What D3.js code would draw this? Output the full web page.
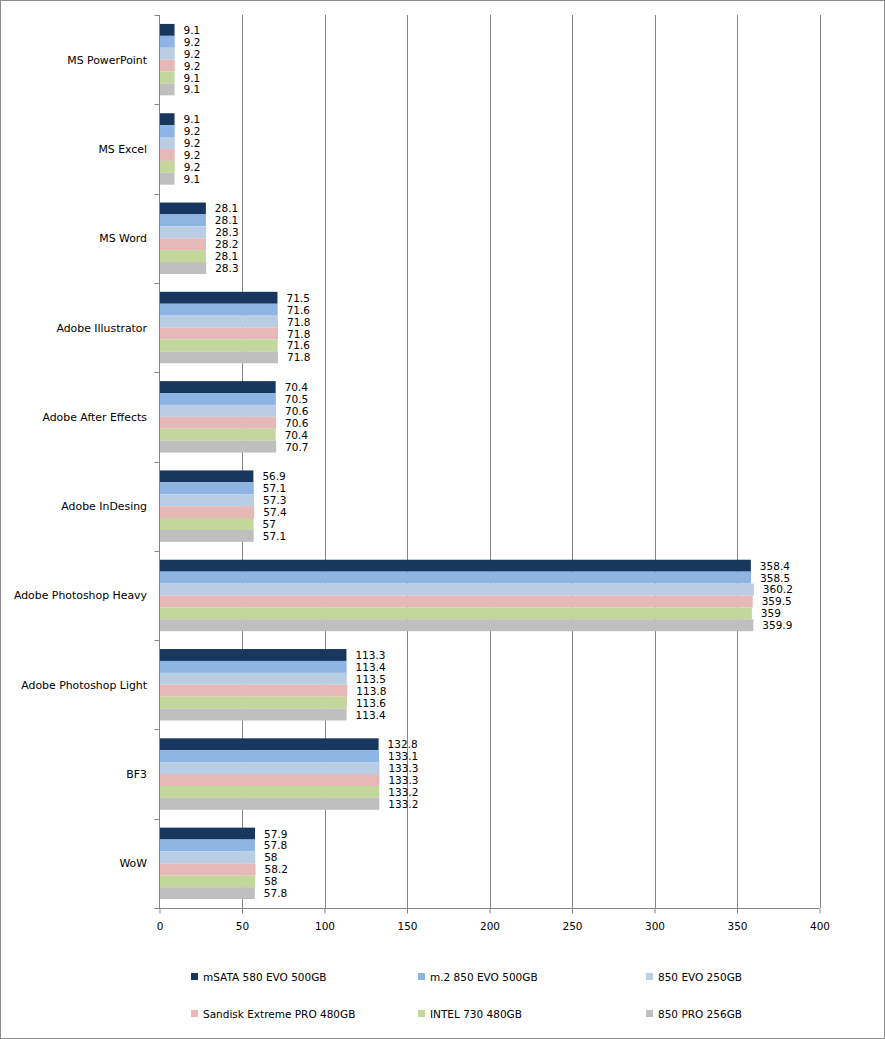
<!DOCTYPE html>
<html>
<head>
<meta charset="utf-8">
<script src="https://cdn.jsdelivr.net/npm/d3@7"></script>
<style>
  body { margin: 0; background: #fff; }
  svg text { font-family: "DejaVu Sans", Verdana, sans-serif; fill: #000; }
</style>
</head>
<body>
<div class="chart"></div>
<script>
const width = 885;
const height = 1039;

const categories = ['MS PowerPoint', 'MS Excel', 'MS Word', 'Adobe Illustrator', 'Adobe After Effects',
    'Adobe InDesing', 'Adobe Photoshop Heavy', 'Adobe Photoshop Light', 'BF3', 'WoW'];

const seriesNames = ['mSATA 580 EVO 500GB', 'm.2 850 EVO 500GB', '850 EVO 250GB',
    'Sandisk Extreme PRO 480GB', 'INTEL 730 480GB', '850 PRO 256GB'];

const seriesColors = ['#17375e', '#8db4e2', '#b9cde5', '#e6b9b8', '#c3d69b', '#bfbfbf'];

// one array per series, same order as categories
const msata580 = [9.1, 9.1, 28.1, 71.5, 70.4, 56.9, 358.4, 113.3, 132.8, 57.9];
const m2evo500 = [9.2, 9.2, 28.1, 71.6, 70.5, 57.1, 358.5, 113.4, 133.1, 57.8];
const evo250 = [9.2, 9.2, 28.3, 71.8, 70.6, 57.3, 360.2, 113.5, 133.3, 58];
const sandisk480 = [9.2, 9.2, 28.2, 71.8, 70.6, 57.4, 359.5, 113.8, 133.3, 58.2];
const intel730 = [9.1, 9.2, 28.1, 71.6, 70.4, 57, 359, 113.6, 133.2, 58];
const pro256 = [9.1, 9.1, 28.3, 71.8, 70.7, 57.1, 359.9, 113.4, 133.2, 57.8];

const seriesValues = [msata580, m2evo500, evo250, sandisk480, intel730, pro256];

const xTicks = [0, 50, 100, 150, 200, 250, 300, 350, 400];

const plot = { left: 159.5, right: 819.5, top: 15, bottom: 908 };

const svg = d3.select('.chart')
    .append('svg')
    .attr('width', width)
    .attr('height', height)

svg.append('rect')
    .attr('x', 0.5).attr('y', 0.5)
    .attr('width', width - 1).attr('height', height - 1)
    .attr('fill', '#fff')
    .attr('stroke', '#8c8c8c')

const x = d3.scaleLinear().domain([0, 400]).range([plot.left, plot.right]);

const y = d3.scaleBand()
    .domain(categories)
    .range([plot.top, plot.bottom])
    .paddingInner(0.2)
    .paddingOuter(0.1)

const yInner = d3.scaleBand()
    .domain(d3.range(seriesNames.length))
    .range([0, y.bandwidth()])

// vertical gridlines
svg.append('g')
    .selectAll('line')
    .data(xTicks.filter(t => t > 0))
    .enter()
    .append('line')
    .attr('x1', d => Math.round(x(d)) + 0.5)
    .attr('x2', d => Math.round(x(d)) + 0.5)
    .attr('y1', plot.top)
    .attr('y2', plot.bottom)
    .attr('stroke', '#868686')

// bars
const rows = svg.append('g')
    .selectAll('g')
    .data(categories)
    .enter()
    .append('g')
    .attr('transform', d => `translate(0,${y(d)})`)

rows.selectAll('rect')
    .data((c, ci) => seriesValues.map((vals, si) => ({ si, v: vals[ci] })))
    .enter()
    .append('rect')
    .attr('x', x(0))
    .attr('y', d => yInner(d.si))
    .attr('width', d => x(d.v) - x(0))
    .attr('height', yInner.bandwidth())
    .attr('fill', d => seriesColors[d.si])

rows.selectAll('text')
    .data((c, ci) => seriesValues.map((vals, si) => ({ si, v: vals[ci] })))
    .enter()
    .append('text')
    .attr('x', d => x(d.v) + 9)
    .attr('y', d => yInner(d.si) + yInner.bandwidth() / 2 + 4)
    .attr('font-size', 10.5)
    .text(d => d.v)

// x axis
const xAxis = svg.append('g')
    .attr('transform', `translate(0,${plot.bottom + 0.5})`)
    .call(d3.axisBottom(x).tickValues(xTicks).tickSize(5).tickPadding(9).tickSizeOuter(0))

xAxis.select('.domain')
    .attr('stroke', '#868686')
    .attr('d', `M${plot.left - 5},0H${plot.right}`)
xAxis.selectAll('.tick line').attr('stroke', '#868686')
xAxis.selectAll('.tick text')
    .attr('font-size', 10.5)
    .attr('font-family', '"DejaVu Sans", Verdana, sans-serif')

// y axis line with ticks at category boundaries
const boundaries = d3.range(categories.length + 1).map(i => plot.top + i * y.step());

svg.append('line')
    .attr('x1', plot.left).attr('x2', plot.left)
    .attr('y1', plot.top).attr('y2', plot.bottom)
    .attr('stroke', '#868686')

svg.append('g')
    .selectAll('line')
    .data(boundaries)
    .enter()
    .append('line')
    .attr('x1', plot.left - 5).attr('x2', plot.left)
    .attr('y1', d => Math.round(d) + 0.5)
    .attr('y2', d => Math.round(d) + 0.5)
    .attr('stroke', '#868686')

svg.append('g')
    .selectAll('text')
    .data(categories)
    .enter()
    .append('text')
    .attr('x', 147)
    .attr('y', d => y(d) + y.bandwidth() / 2 + 4)
    .attr('text-anchor', 'end')
    .attr('font-size', 10.9)
    .text(d => d)

// legend
const legendX = [191, 418, 646];
const legendY = [977, 1014];

const legend = svg.append('g')
    .selectAll('g')
    .data(seriesNames)
    .enter()
    .append('g')
    .attr('transform', (d, i) => `translate(${legendX[i % 3]},${legendY[Math.floor(i / 3)]})`)

legend.append('rect')
    .attr('x', 0).attr('y', -4)
    .attr('width', 7).attr('height', 7)
    .attr('fill', (d, i) => seriesColors[i])

legend.append('text')
    .attr('x', 12)
    .attr('y', 4)
    .attr('font-size', 10.5)
    .text(d => d)
</script>
</body>
</html>
